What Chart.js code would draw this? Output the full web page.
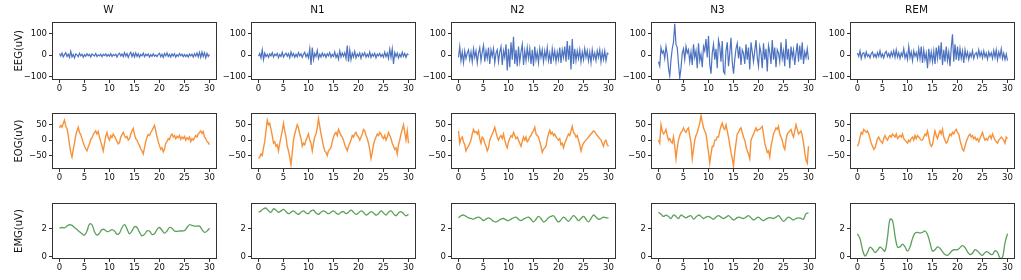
<!DOCTYPE html>
<html lang="en">
<head>
    <meta charset="UTF-8">
    <title>Signals per sleep stage</title>
    <script src="https://cdn.jsdelivr.net/npm/chart.js"></script>
    <style>
        body, html {
            margin: 0;
            padding: 0;
            width: 1021px;
            height: 280px;
            overflow: hidden;
            background: #fff;
            font-family: "DejaVu Sans", sans-serif;
        }
        .panel { position: absolute; }
    </style>
</head>
<body>
    <script>
        const stages = ["W", "N1", "N2", "N3", "REM"];
        const xTicks = [0, 5, 10, 15, 20, 25, 30];
        const eegTicks = [-100, 0, 100];
        const eogTicks = [-50, 0, 50];
        const emgTicks = [0, 2];

        // EEG, one value every 0.25 s
        const eegW = [8, -4, 10, -8, 3, 12, -6, 5, -10, 18,
            -8, 4, -12, 6, 2, -7, 9, -3, 5, -9,
            3, -5, 7, -2, 4, -8, 6, 1, -4, 8,
            -6, 2, -3, 5, -7, 4, -2, 6, -5, 3,
            -4, 7, -6, 3, -2, 5, -8, 4, 9, -3,
            6, -7, 12, -4, 8, -10, 5, 14, -6, 9,
            -8, 11, -5, 7, -9, 4, -3, 10, -7, 5,
            -2, 6, -8, 3, -5, 7, -4, 2, -6, 4,
            9, -7, 5, -10, 8, -3, 11, -6, 4, -8,
            6, -4, 7, -9, 3, -5, 8, -2, 5, -7,
            4, -6, 3, -8, 6, -3, 5, -9, 7, -4,
            10, -8, 13, -10, 15, -6, 12, -12, 9, -5,
            4];
        const eegN1 = [-5, 8, -12, 25, -20, 10, -6, 4, -10, 6,
            -3, 12, -8, 5, -2, 9, -11, 4, -6, 14,
            -8, 3, 10, -5, 7, -12, 15, -4, 8, -9,
            5, -7, 12, -3, 6, -10, 4, 14, -8, 6,
            -12, 30, -45, 35, -20, 8, -6, 22, -15, 5,
            -8, 10, -4, 6, -10, 7, -3, 12, -9, 4,
            -6, 15, -10, 5, -18, 20, -8, 10, -5, 12,
            -15, 45, -30, 25, -20, 10, -8, 18, -12, 6,
            -5, 10, -14, 8, -3, 12, -9, 5, -7, 15,
            -10, 6, -4, 9, -12, 5, -3, 8, -6, 4,
            -9, 14, -7, 10, -15, 28, -10, 30, -40, 12,
            -6, 10, -12, 5, -8, 14, -5, 8, -10, 6,
            2];
        const eegN2 = [-10, 40, -25, 15, -35, 20, -15, 10, 25, -20,
            15, -30, 30, -10, 20, -35, 10, 35, -25, 15,
            45, -30, 20, -15, 35, -40, 25, -5, 30, -35,
            10, 25, -30, 15, 40, -45, 20, -10, 50, -70,
            30, -55, 60, -20, 85, -40, 25, -50, 40, -30,
            15, 50, -45, 20, -25, 35, -15, 30, -40, 25,
            -50, 40, -20, 15, -35, 30, -10, 25, -30, 20,
            -15, 35, -25, 10, -40, 30, -15, 20, -30, 15,
            -20, 35, -35, 25, -10, 40, -30, 65, -20, 45,
            -65, 75, -40, 30, -25, 20, -15, 25, -30, 15,
            -20, 30, -10, 20, -25, 15, -35, 25, -15, 10,
            -25, 20, -10, 25, -30, 15, -20, 20, -25, 10,
            5];
        const eegN3 = [-30, -50, 35, 10, 20, -15, 40, 5, -60, -95,
            -20, 30, 60, 145, 50, 35, -40, -105, -60, 10,
            30, -20, 40, 10, 25, -30, 15, -45, 50, -10,
            20, -60, 55, -25, 5, -55, 40, 20, 75, -10,
            90, -40, -85, 10, 50, -20, 30, -60, 70, 40,
            -30, 65, -75, -85, 20, 60, -50, 10, 80, -30,
            -85, -20, 30, 55, -15, 40, -45, 25, 10, -40,
            50, -20, 35, -65, 60, 15, -30, 20, 70, -10,
            -50, 40, 10, -60, 55, -20, 30, -75, 45, 15,
            -40, 70, -20, 35, -55, 25, 10, -30, 60, -15,
            20, -50, 75, -20, 30, -60, 40, -10, 25, -45,
            10, 55, -30, 45, -20, 60, -40, 15, -10, 30,
            -20];
        const eegREM = [10, -5, 20, -15, 8, 12, -10, 15, -5, 3,
            -12, 8, 15, -8, 5, -10, 12, -5, 20, -8,
            6, -12, 10, 18, -6, 8, -10, 15, -4, 20,
            -10, 25, -8, 12, -15, 10, -5, 30, -12, 8,
            -20, 40, -10, 15, -25, 20, -5, 12, -18, 30,
            -15, 40, -35, 25, -20, 10, -60, 30, -25, 15,
            -30, 20, -40, 35, -15, 45, -20, 60, -45, 25,
            -30, 40, -25, 15, -50, 35, 97, -30, 50, -20,
            40, -25, 30, -15, 20, -35, 25, -10, 15, -20,
            10, -8, 20, -15, 5, 12, -10, 25, -5, 15,
            -12, 20, -8, 10, -18, 15, -5, 12, -15, 22,
            -10, 25, -20, 15, -8, 30, -15, 10, -20, 5,
            -25];

        // EOG, one value every 0.25 s
        const eogW = [40, 48, 42, 55, 65, 45, 38, 15, -15, -40,
            -55, -30, -10, 15, 30, 42, 25, 18, 5, -8,
            -20, -28, -35, -22, -12, 2, 8, 18, 25, 30,
            20, 28, 10, -5, -20, -35, -10, 12, 25, 8,
            0, 15, 8, 20, 12, 5, -5, -12, -8, 10,
            18, 25, 15, 8, 12, 0, 5, 20, 30, 38,
            18, 5, 0, -10, -18, -28, -35, -45, -25, -5,
            10, 18, 15, 25, 32, 40, 48, 30, 10, -5,
            -18, -30, -25, -38, -30, -10, -5, 5, 2, 15,
            20, 10, 15, 5, 12, 8, 15, 2, 10, 5,
            12, 0, 8, 3, 10, -5, 5, 0, 8, 15,
            10, 20, 25, 30, 22, 28, 10, 5, -5, -8,
            -15];
        const eogN1 = [-60, -55, -45, -50, -25, -5, 30, 65, 50, 55,
            35, 15, -10, -5, -20, -15, -35, -10, 10, 30,
            55, 30, 10, -20, -35, -55, -80, -40, 0, 20,
            35, 50, 40, 20, 5, -20, -10, -15, 0, 10,
            20, 0, -10, -35, -10, 10, 20, 40, 70, 45,
            20, 0, -20, -35, -40, -50, -35, -30, -25, -5,
            10, 20, 25, 15, 35, 25, 15, 10, 0, -15,
            -25, -35, -20, -10, 0, 15, 10, 20, 25, 15,
            10, 0, 10, 20, 35, 30, 15, 5, -10, -30,
            -60, -40, -15, 0, 10, 20, 15, 25, 20, 10,
            5, 15, 0, 10, 25, 15, 5, -10, -20, -30,
            -25, -45, -15, 0, 20, 35, 50, 25, 0, 30,
            -10];
        const eogN2 = [30, -10, 5, 10, -5, -15, -35, -25, -20, -10,
            0, 20, 35, 25, 28, 20, 30, 5, -10, 10,
            5, -10, -20, -35, -25, 0, 10, 20, 30, 42,
            25, 10, 0, 10, 15, 5, 20, 0, -15, -25,
            -5, 5, 15, 10, 25, 15, 5, 10, 0, -10,
            -20, -5, 10, 0, 10, -5, 0, 10, 15, 25,
            30, 42, 20, 15, 10, -5, -20, -40, -30, -25,
            -20, 5, 20, 32, 20, 25, 15, 20, 10, 5,
            0, 5, -15, -10, -25, -10, 0, 10, 20, 15,
            30, 45, 25, 20, 10, 15, 0, -15, -35, -20,
            -10, -5, 0, 5, 10, 15, 20, 25, 30, 28,
            20, 15, 10, 5, 0, -10, -20, -5, 0, -15,
            -20];
        const eogN3 = [0, -10, 50, 30, 20, 25, 35, 15, 0, 5,
            -5, -10, 10, -20, -60, -25, 0, 15, 25, 30,
            40, 30, 25, 35, 40, 15, -10, -60, -30, 0,
            15, 25, 40, 55, 80, 60, 40, 30, 20, -10,
            -40, -75, -45, -20, -20, 0, 0, 10, 10, 30,
            45, 55, 40, 35, 50, 30, 10, -15, -40, -60,
            -85, -40, -10, 20, 25, 35, 40, 25, 10, 0,
            -20, -35, -45, -60, 0, 10, 20, 30, 40, 30,
            35, 35, 40, 45, 20, -10, -25, -40, -35, -55,
            -20, 0, 20, 30, 40, 35, 45, 20, 10, 0,
            -20, -30, 0, 20, 25, 30, 35, 20, 10, 30,
            50, 35, 20, 25, 30, 15, -10, -40, -65, -75,
            -20];
        const eogREM = [-20, -10, 10, 25, 20, 35, 30, 25, 30, 20,
            5, -10, -20, -30, -25, -10, 5, 10, 0, -5,
            -10, 5, 15, 5, 0, 10, 15, 10, 20, 15,
            10, 20, 5, 10, 15, 10, 20, 5, 0, -5,
            -10, 0, -5, 5, 10, 0, 15, 5, 15, 10,
            5, 0, 0, 10, 20, 15, 30, 10, -10, -20,
            -15, 10, 30, 15, 5, 20, 30, 20, 35, 10,
            0, -10, -5, 10, 20, 15, 25, 20, 30, 35,
            25, 20, 0, -15, -30, -35, -20, -5, 5, 15,
            20, 10, 15, 5, 10, 0, 5, -5, 5, 15,
            25, 10, 0, 5, 0, 10, 15, 5, 20, 10,
            0, -5, -10, 0, 5, 10, 5, 0, -10, 10,
            5];

        // EMG, one value every 0.5 s
        const emgW = [2.05, 2.1, 2.08, 2.2, 2.3, 2.25, 2.1, 1.95, 1.8, 1.65,
            1.55, 1.85, 2.35, 2.3, 1.8, 1.55, 1.7, 1.95, 1.95, 1.8,
            1.85, 1.95, 1.85, 1.62, 1.7, 2.1, 2.3, 2.0, 1.65, 1.85,
            2.15, 2.1, 1.75, 1.5, 1.6, 1.85, 1.85, 1.6, 1.65, 1.95,
            2.1, 1.9, 1.7, 1.85, 2.1, 2.05, 1.85, 1.82, 1.85, 1.85,
            1.88, 2.1, 2.3, 2.25, 2.2, 2.2, 2.2, 1.95, 1.75, 1.85,
            2.05];
        const emgN1 = [3.2, 3.3, 3.45, 3.5, 3.3, 3.2, 3.45, 3.35, 3.2, 3.3,
            3.4, 3.25, 3.1, 3.2, 3.3, 3.15, 3.05, 3.2, 3.3, 3.15,
            3.1, 3.3, 3.35, 3.15, 3.05, 3.2, 3.3, 3.2, 3.1, 3.2,
            3.3, 3.15, 3.05, 3.2, 3.25, 3.1, 3.2, 3.35, 3.2, 3.05,
            3.15, 3.3, 3.2, 3.0, 3.1, 3.25, 3.15, 3.0, 3.1, 3.3,
            3.15, 3.0, 3.2, 3.3, 3.1, 2.95, 3.15, 3.25, 3.1, 2.95,
            3.05];
        const emgN2 = [2.8, 2.95, 3.0, 2.9, 2.8, 2.75, 2.7, 2.8, 2.85, 2.75,
            2.6, 2.7, 2.8, 2.7, 2.55, 2.5, 2.6, 2.7, 2.75, 2.65,
            2.6, 2.7, 2.8, 2.85, 2.7, 2.6, 2.7, 2.8, 2.85, 2.7,
            2.5, 2.7, 2.9, 2.75, 2.5, 2.6, 2.8, 2.9, 2.95, 2.7,
            2.5, 2.65, 2.85, 2.7, 2.55, 2.75, 2.95, 2.8, 2.6, 2.75,
            2.9, 2.7, 2.5, 2.75, 3.0, 2.85, 2.7, 2.75, 2.85, 2.8,
            2.8];
        const emgN3 = [3.2, 3.05, 2.9, 3.0, 2.9, 2.75, 3.0, 2.9, 2.75, 3.0,
            2.9, 2.8, 2.9, 2.95, 2.7, 2.85, 3.0, 2.9, 2.75, 2.85,
            2.9, 2.8, 2.7, 2.85, 2.95, 2.85, 2.75, 2.85, 2.95, 2.8,
            2.65, 2.75, 2.85, 2.8, 2.75, 2.85, 2.95, 2.8, 2.65, 2.75,
            2.85, 2.7, 2.6, 2.7, 2.8, 2.8, 2.75, 2.85, 2.95, 2.75,
            2.55, 2.7, 2.85, 2.75, 2.65, 2.75, 2.8, 2.75, 2.7, 3.1,
            3.15];
        const emgREM = [1.64, 1.3, 0.5, 0.05, 0.3, 0.68, 0.55, 0.3, 0.45, 0.68,
            0.55, 0.4, 1.4, 2.7, 2.6, 1.5, 0.7, 0.7, 0.9, 0.7,
            0.4, 0.7, 1.3, 1.7, 1.75, 1.7, 1.75, 1.85, 1.6, 1.0,
            0.4, 0.5, 0.7, 0.6, 0.35, 0.15, 0.1, 0.25, 0.45, 0.5,
            0.5, 0.65, 0.8, 0.65, 0.35, 0.15, 0.25, 0.5, 0.4, 0.2,
            0.1, 0.3, 0.35, 0.2, 0.15, 0.42, 0.3, -0.1, -0.05, 1.0,
            1.65];

        const rows = [
            { label: "EEG(uV)", series: [eegW, eegN1, eegN2, eegN3, eegREM], ticks: eegTicks, min: -114, max: 155, color: "#4c72c0", width: 1.2, tension: 0 },
            { label: "EOG(uV)", series: [eogW, eogN1, eogN2, eogN3, eogREM], ticks: eogTicks, min: -94, max: 88, color: "#f7923a", width: 1.4, tension: 0 },
            { label: "EMG(uV)", series: [emgW, emgN1, emgN2, emgN3, emgREM], ticks: emgTicks, min: -0.17, max: 3.86, color: "#5ca05c", width: 1.3, tension: 0.4 }
        ];

        // plot box placement in the page
        const colLeft = [52, 251, 451, 651, 850];
        const rowTop = [21, 110, 200];
        const boxW = 165, boxH = 59;
        const padB = 20, padR = 3;

        const frame = {
            id: 'frame',
            afterDraw(chart) {
                const a = chart.chartArea, ctx = chart.ctx;
                ctx.save();
                ctx.strokeStyle = '#333';
                ctx.lineWidth = 1;
                ctx.strokeRect(Math.round(a.left) + 0.5, Math.round(a.top) + 0.5,
                    Math.round(a.right - a.left) - 1, Math.round(a.bottom - a.top) - 1);
                ctx.restore();
            }
        };

        const fmt = v => String(v).replace('-', '\u2212');
        const tickFont = { family: 'DejaVu Sans', size: 8.5 };

        rows.forEach((row, r) => {
            row.series.forEach((vals, c) => {
                const padL = c === 0 ? colLeft[0] : 32;
                const padT = r === 0 ? 21 : 4;
                const w = boxW + padL + padR, h = boxH + padT + padB;

                const div = document.createElement('div');
                div.className = 'panel';
                div.style.left = (colLeft[c] - padL) + 'px';
                div.style.top = (rowTop[r] - padT) + 'px';
                const cv = document.createElement('canvas');
                cv.width = w;
                cv.height = h;
                div.appendChild(cv);
                document.body.appendChild(div);

                new Chart(cv.getContext('2d'), {
                    type: 'line',
                    data: {
                        datasets: [{
                            data: vals.map((v, i) => ({ x: i * 30 / (vals.length - 1), y: v })),
                            borderColor: row.color,
                            borderWidth: row.width,
                            pointRadius: 0,
                            tension: row.tension,
                            fill: false
                        }]
                    },
                    options: {
                        responsive: false,
                        animation: false,
                        events: [],
                        layout: { padding: { top: r === 0 ? 0 : padT, right: padR, left: 0, bottom: 0 } },
                        scales: {
                            x: {
                                type: 'linear', min: -1.5, max: 31.5,
                                afterBuildTicks: s => { s.ticks = xTicks.map(v => ({ value: v })); },
                                afterFit: s => { s.height = padB; },
                                ticks: { font: tickFont, color: '#111', padding: 1, maxRotation: 0, callback: fmt },
                                grid: { drawOnChartArea: false, drawTicks: true, tickLength: 3, color: '#333' },
                                border: { display: false }
                            },
                            y: {
                                type: 'linear', min: row.min, max: row.max,
                                afterBuildTicks: s => { s.ticks = row.ticks.map(v => ({ value: v })); },
                                afterFit: s => { s.width = padL; },
                                ticks: { font: tickFont, color: '#111', padding: 2, callback: fmt },
                                grid: { drawOnChartArea: false, drawTicks: true, tickLength: 3, color: '#333' },
                                border: { display: false },
                                title: { display: c === 0, text: row.label, color: '#111', font: { family: 'DejaVu Sans', size: 10 }, padding: { top: 13, bottom: 0 } }
                            }
                        },
                        plugins: {
                            legend: { display: false },
                            tooltip: { enabled: false },
                            title: { display: r === 0, text: stages[c], color: '#111', font: { family: 'DejaVu Sans', size: 10.5, weight: 'normal' }, padding: { top: 4, bottom: 5 } }
                        }
                    },
                    plugins: [frame]
                });
            });
        });
    </script>
</body>
</html>
